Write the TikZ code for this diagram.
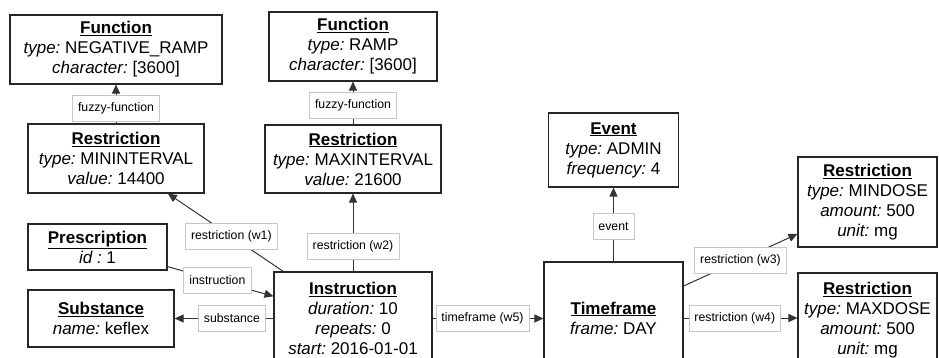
\documentclass[tikz,border=0pt]{standalone}
\usepackage{fontspec}
\setmainfont{Liberation Sans}
\usetikzlibrary{arrows.meta}
\newcommand{\hd}[1]{\underline{\textbf{#1}}}
\newcommand{\ky}[1]{\textit{#1:}}
\frenchspacing
\begin{document}
\begin{tikzpicture}[x=1pt, y=-1pt,
  box/.style={draw=black!85, line width=1.1pt, fill=white, align=center, inner sep=0pt, font=\fontsize{17}{20}\selectfont},
  lbl/.style={draw=black!22, fill=white, line width=0.6pt, font=\fontsize{12.3}{14}\selectfont, inner xsep=5.5pt, inner ysep=0pt, minimum height=26pt},
  link/.style={draw=black!80, line width=1pt, -{Triangle[length=9pt,width=8pt]}}]
\useasboundingbox (0,0) rectangle (939,358);
\clip (0,0) rectangle (939,358);
% objects
\node[box, minimum width=212pt, minimum height=69pt] (fun1) at (116,49.5) {\hd{Function}\\ \ky{type} NEGATIVE\_RAMP\\ \ky{character} [3600]};
\node[box, minimum width=168pt, minimum height=69pt] (fun2) at (353,46.5) {\hd{Function}\\ \ky{type} RAMP\\ \ky{character} [3600]};
\node[box, minimum width=176pt, minimum height=69pt] (res1) at (116,158.5) {\hd{Restriction}\\ \ky{type} MININTERVAL\\ \ky{value} 14400};
\node[box, minimum width=176pt, minimum height=68pt] (res2) at (353,159) {\hd{Restriction}\\ \ky{type} MAXINTERVAL\\ \ky{value} 21600};
\node[box, minimum width=139pt, minimum height=46pt] (pre) at (97.5,247) {\hd{Prescription}\\ \textit{id :} 1};
\node[box, minimum width=146pt, minimum height=57pt] (sub) at (101,318.5) {\hd{Substance}\\ \ky{name} keflex};
\node[box, minimum width=158pt, minimum height=93pt] (ins) at (353,318.5) {\hd{Instruction}\\ \ky{duration} 10\\ \ky{repeats} 0\\ \ky{start} 2016-01-01};
\node[box, minimum width=139pt, minimum height=112pt] (tf) at (613.5,318) {\hd{Timeframe}\\ \ky{frame} DAY};
\node[box, minimum width=130pt, minimum height=74pt] (ev) at (613.5,150) {\hd{Event}\\ \ky{type} ADMIN\\ \ky{frequency} 4};
\node[box, minimum width=139pt, minimum height=90pt] (mind) at (867.5,202) {\hd{Restriction}\\ \ky{type} MINDOSE\\ \ky{amount} 500\\ \ky{unit} mg};
\node[box, minimum width=139pt, minimum height=94pt] (maxd) at (867.5,320) {\hd{Restriction}\\ \ky{type} MAXDOSE\\ \ky{amount} 500\\ \ky{unit} mg};
% links
\draw[link] (res1) -- node[lbl, pos=0.4] {fuzzy-function} (fun1);
\draw[link] (res2) -- node[lbl, pos=0.45] {fuzzy-function} (fun2);
\draw[link] (ins) -- node[lbl, pos=0.45] {restriction (w1)} (res1);
\draw[link] (ins) -- node[lbl, pos=0.32] {restriction (w2)} (res2);
\draw[link] (pre) -- node[lbl, pos=0.47] {instruction} (ins);
\draw[link] (ins.west) -- node[lbl, pos=0.42] {substance} (sub.east);
\draw[link] (ins.east) -- node[lbl, pos=0.45] {timeframe (w5)} (ins.east -| tf.west);
\draw[link] (tf) -- node[lbl, pos=0.47] {event} (ev);
\draw[link] (tf) -- node[lbl, pos=0.5] {restriction (w3)} (mind);
\draw[link] (tf.east) -- node[lbl, pos=0.45] {restriction (w4)} (tf.east -| maxd.west);
\end{tikzpicture}
\end{document}
